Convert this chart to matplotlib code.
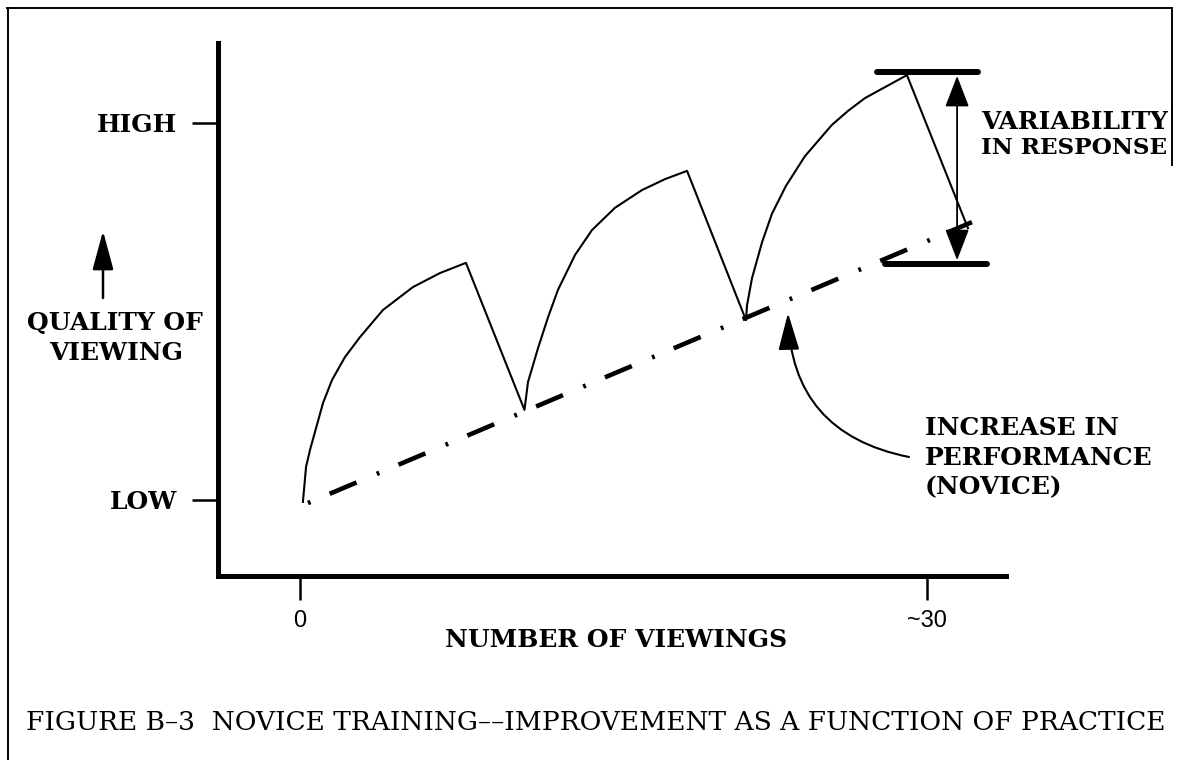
import matplotlib
matplotlib.use('Agg')
import matplotlib.pyplot as plt
from matplotlib.lines import Line2D

plt.rcParams['lines.scale_dashes'] = False

W, H = 1177, 760

# practice curve: number of viewings vs quality of viewing (LOW = 0, HIGH = 10)
viewings = [0.14, 0.29, 0.48, 1.10, 1.53, 2.15, 2.87, 3.97, 5.41, 6.70, 7.94,
            10.74,
            10.91, 11.39, 11.87, 12.34, 13.16, 13.97, 15.07, 16.36, 17.46, 18.52,
            21.34,
            21.39, 21.63, 22.11, 22.58, 23.25, 24.16, 25.45, 26.22, 27.03, 29.04,
            31.96]
quality = [-0.05, 0.88, 1.33, 2.57, 3.18, 3.79, 4.32, 5.04, 5.65, 6.02, 6.29,
           2.39,
           3.13, 4.03, 4.85, 5.57, 6.50, 7.16, 7.75, 8.22, 8.51, 8.73,
           4.77,
           5.17, 5.89, 6.84, 7.59, 8.33, 9.12, 9.95, 10.32, 10.66, 11.27,
           7.21]

# novice trend line
trend_x = [0.38, 32.15]
trend_y = [-0.08, 7.37]

# variability markers
peak_level = 11.35
base_level = 6.26
peak_span = [27.61, 32.44]
base_span = [27.99, 32.87]
var_x = 31.44

x_ticks = [0, 30]
x_ticklabels = ['0', '~30']
y_ticks = [0, 10]
y_ticklabels = ['LOW', 'HIGH']


def fpos(px, py):
    return px / W, 1 - py / H


serif = 'DejaVu Serif'

fig = plt.figure(figsize=(W / 100, H / 100), dpi=100)
ax = fig.add_axes([218 / W, 1 - 576 / H, (1006 - 218) / W, (576 - 43) / H])
ax.set_xlim(-3.923, 33.78)
ax.set_ylim(-2.016, 12.122)

ax.plot(viewings, quality, color='black', lw=1.5, solid_joinstyle='round')
ax.plot(trend_x, trend_y, color='black', lw=3.3,
        linestyle=(0, (2, 15, 21, 15.8)), dash_capstyle='butt')

ax.plot(peak_span, [peak_level, peak_level], color='black', lw=4.3,
        solid_capstyle='round')
ax.plot(base_span, [base_level, base_level], color='black', lw=4.3,
        solid_capstyle='round')
ax.annotate('', xy=(var_x, base_level + 0.1), xytext=(var_x, peak_level - 0.1),
            arrowprops=dict(arrowstyle='<|-|>,head_length=19.5,head_width=7.5',
                            mutation_scale=1, lw=1.3, color='black',
                            shrinkA=0, shrinkB=0))

# curved pointer to the trend line
ax.annotate('', xy=(23.35, 4.96), xytext=(29.14, 1.14),
            arrowprops=dict(arrowstyle='-|>,head_length=23,head_width=6.5',
                            mutation_scale=1, lw=1.5, color='black',
                            shrinkA=0, shrinkB=0,
                            connectionstyle='arc3,rad=-0.4'))

ax.spines[['top', 'right']].set_visible(False)
ax.spines[['left', 'bottom']].set_linewidth(3.6)

ax.set_xticks(x_ticks, x_ticklabels)
ax.set_yticks(y_ticks, y_ticklabels)
ax.tick_params(axis='y', length=18.7, width=1.8, pad=10.5)
ax.tick_params(axis='x', length=17.3, width=1.8, pad=7)
for lbl in ax.get_yticklabels():
    lbl.set_fontfamily(serif)
    lbl.set_fontweight('bold')
    lbl.set_fontsize(18)
for lbl in ax.get_xticklabels():
    lbl.set_fontfamily('Liberation Sans')
    lbl.set_fontsize(17)

bold = dict(family=serif, weight='bold', size=18)
fig.text(*fpos(115, 323), 'QUALITY OF', ha='center', va='center', **bold)
fig.text(*fpos(116, 353), 'VIEWING', ha='center', va='center', **bold)
ax.annotate('', xy=fpos(103, 231), xytext=fpos(103, 298),
            xycoords='figure fraction', textcoords='figure fraction',
            arrowprops=dict(arrowstyle='-|>,head_length=24,head_width=6.5',
                            mutation_scale=1, lw=1.8, color='black',
                            shrinkA=0, shrinkB=0))

fig.text(*fpos(616, 640), 'NUMBER OF VIEWINGS', ha='center', va='center', **bold)
fig.text(*fpos(981, 122), 'VARIABILITY', ha='left', va='center', **bold)
fig.text(*fpos(981, 148), 'IN RESPONSE', ha='left', va='center',
         family=serif, weight='bold', size=16.7)
fig.text(*fpos(925, 428), 'INCREASE IN', ha='left', va='center', **bold)
fig.text(*fpos(925, 458), 'PERFORMANCE', ha='left', va='center', **bold)
fig.text(*fpos(925, 487), '(NOVICE)', ha='left', va='center', **bold)

fig.text(*fpos(26, 722),
         'FIGURE B\u20133  NOVICE TRAINING\u2013\u2013IMPROVEMENT AS A FUNCTION OF PRACTICE',
         ha='left', va='center', family=serif, size=19)

# frame of the scanned page
for (x0, y0), (x1, y1) in [((7, 8), (1172, 8)), ((8, 8), (8, 760)),
                           ((1172, 8), (1172, 165))]:
    fx0, fy0 = fpos(x0, y0)
    fx1, fy1 = fpos(x1, y1)
    fig.add_artist(Line2D([fx0, fx1], [fy0, fy1], color='black', lw=1.4))

fig.savefig('out.png', dpi=100)
